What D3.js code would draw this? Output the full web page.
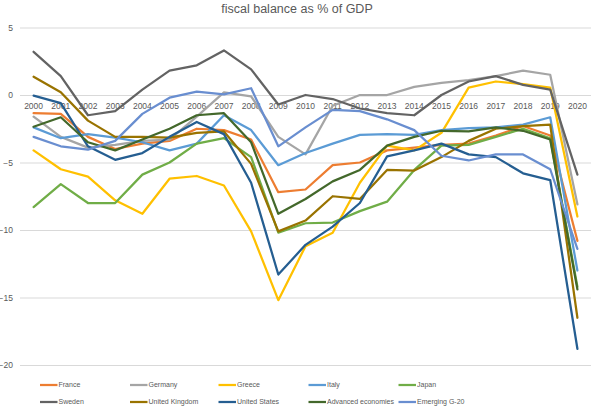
<!DOCTYPE html>
<html>
<head>
<meta charset="utf-8">
<script src="https://cdn.jsdelivr.net/npm/d3@7"></script>
<style>
  body { margin: 0; background: #fff; }
  text { font-family: "Liberation Sans", Arial, sans-serif; }
</style>
</head>
<body>
<div id="chart"></div>
<script>
// data
const years = ["2000","2001","2002","2003","2004","2005","2006","2007","2008","2009","2010",
  "2011","2012","2013","2014","2015","2016","2017","2018","2019","2020"];

const seriesNames = ["France", "Germany", "Greece", "Italy", "Japan",
  "Sweden", "United Kingdom", "United States", "Advanced economies", "Emerging G-20"];

const seriesColors = ["#ED7D31", "#A5A5A5", "#FFC000", "#5B9BD5", "#70AD47",
  "#636363", "#997300", "#255E91", "#43682B", "#698ED0"];

const france   = [-1.35,-1.4,-3.1,-4.0,-3.6,-3.4,-2.5,-2.6,-3.3,-7.2,-7.0,-5.2,-5.0,-4.1,-3.9,-3.7,-3.6,-3.0,-2.3,-3.0,-10.8];
const germany  = [-1.6,-3.1,-3.9,-3.7,-3.4,-3.3,-1.6,0.2,-0.1,-3.1,-4.4,-0.8,0.0,0.0,0.6,0.9,1.1,1.4,1.8,1.5,-8.1];
const greece   = [-4.1,-5.5,-6.05,-7.8,-8.8,-6.2,-6.0,-6.7,-10.1,-15.2,-11.2,-10.2,-6.5,-3.75,-4.1,-2.8,0.55,1.0,0.8,0.55,-9.0];
const italy    = [-2.4,-3.2,-2.9,-3.15,-3.5,-4.1,-3.6,-1.5,-2.6,-5.2,-4.3,-3.6,-2.95,-2.9,-2.95,-2.6,-2.45,-2.4,-2.2,-1.65,-13.0];
const japan    = [-8.3,-6.6,-8.0,-8.0,-5.9,-5.0,-3.6,-3.2,-4.6,-10.2,-9.5,-9.45,-8.6,-7.9,-5.55,-3.75,-3.7,-3.1,-2.5,-3.2,-14.2];
const sweden   = [3.2,1.4,-1.5,-1.2,0.4,1.8,2.2,3.3,1.9,-0.7,0.0,-0.3,-1.0,-1.35,-1.5,0.0,1.0,1.4,0.75,0.4,-5.9];
const uk       = [1.35,0.2,-1.9,-3.1,-3.1,-3.15,-2.8,-2.7,-5.1,-10.1,-9.3,-7.5,-7.7,-5.55,-5.6,-4.6,-3.4,-2.5,-2.3,-2.2,-16.5];
const us       = [-0.05,-0.6,-3.8,-4.8,-4.3,-3.1,-2.0,-2.9,-6.5,-13.3,-11.1,-9.75,-8.0,-4.55,-4.1,-3.6,-4.4,-4.6,-5.8,-6.3,-18.8];
const advanced = [-2.35,-1.65,-3.5,-4.1,-3.3,-2.5,-1.5,-1.35,-3.5,-8.8,-7.7,-6.4,-5.55,-3.75,-3.1,-2.65,-2.7,-2.4,-2.65,-3.3,-14.4];
const emerging = [-3.1,-3.8,-4.05,-3.4,-1.4,-0.2,0.25,0.05,0.5,-3.8,-2.4,-1.1,-1.2,-1.8,-2.6,-4.5,-4.85,-4.4,-4.4,-5.5,-11.4];

const yTicks = [5, 0, -5, -10, -15, -20];
const titleText = "fiscal balance as % of GDP";

const allValues = [france, germany, greece, italy, japan, sweden, uk, us, advanced, emerging];

const series = seriesNames.map((name, i) => ({
  name: name,
  color: seriesColors[i],
  values: allValues[i]
}));

const W = 596, H = 409;
const plot = { left: 20, right: 591, top: 27.5, bottom: 365 };

const svg = d3.select("#chart")
  .append("svg")
  .attr("width", W)
  .attr("height", H);

const x = d3.scaleBand().domain(years).range([plot.left, plot.right]).padding(0);
const y = d3.scaleLinear().domain([-20, 5]).range([plot.bottom, plot.top]);
const cx = (yr) => x(yr) + x.bandwidth() / 2;

// title
svg.append("text")
  .attr("x", 297)
  .attr("y", 13)
  .attr("text-anchor", "middle")
  .style("font-size", "12.5px")
  .style("fill", "#595959")
  .text(titleText);

// gridlines + y labels
const yAxis = d3.axisLeft(y)
  .tickValues(yTicks)
  .tickSize(-(plot.right - plot.left))
  .tickPadding(7)
  .tickFormat(d3.format("d"));

const gy = svg.append("g")
  .attr("transform", `translate(${plot.left},0)`)
  .call(yAxis);
gy.select(".domain").remove();
gy.selectAll(".tick line").attr("stroke", "#D9D9D9").attr("stroke-width", 1);
gy.selectAll(".tick text")
  .style("font-size", "8.5px")
  .style("fill", "#595959")
  .style("font-family", "'Liberation Sans', Arial, sans-serif");

// category labels sit on the zero line
const xAxis = d3.axisBottom(x).tickSize(0).tickPadding(8);
const gx = svg.append("g")
  .attr("transform", `translate(0,${y(0)})`)
  .call(xAxis);
gx.select(".domain").remove();
gx.selectAll(".tick text")
  .style("font-size", "8.5px")
  .style("fill", "#595959")
  .style("font-family", "'Liberation Sans', Arial, sans-serif");

// lines
const line = d3.line()
  .x((d, i) => cx(years[i]))
  .y((d) => y(d));

svg.append("g")
  .selectAll("path")
  .data(series)
  .join("path")
  .attr("d", (d) => line(d.values))
  .attr("fill", "none")
  .attr("stroke", (d) => d.color)
  .attr("stroke-width", 2.25)
  .attr("stroke-linejoin", "round")
  .attr("stroke-linecap", "round");

// legend, two rows of five
const legend = svg.append("g");
const colX = [40, 130, 218.5, 308.5, 398.5];
const rowY = [385, 402];

const item = legend.selectAll("g")
  .data(series)
  .join("g")
  .attr("transform", (d, i) => `translate(${colX[i % 5]},${rowY[Math.floor(i / 5)]})`);

item.append("line")
  .attr("x1", 0)
  .attr("x2", 17.5)
  .attr("stroke", (d) => d.color)
  .attr("stroke-width", 2.25);

item.append("text")
  .attr("x", 18.5)
  .attr("dy", "0.35em")
  .style("font-size", "7px")
  .style("fill", "#595959")
  .text((d) => d.name);
</script>
</body>
</html>
